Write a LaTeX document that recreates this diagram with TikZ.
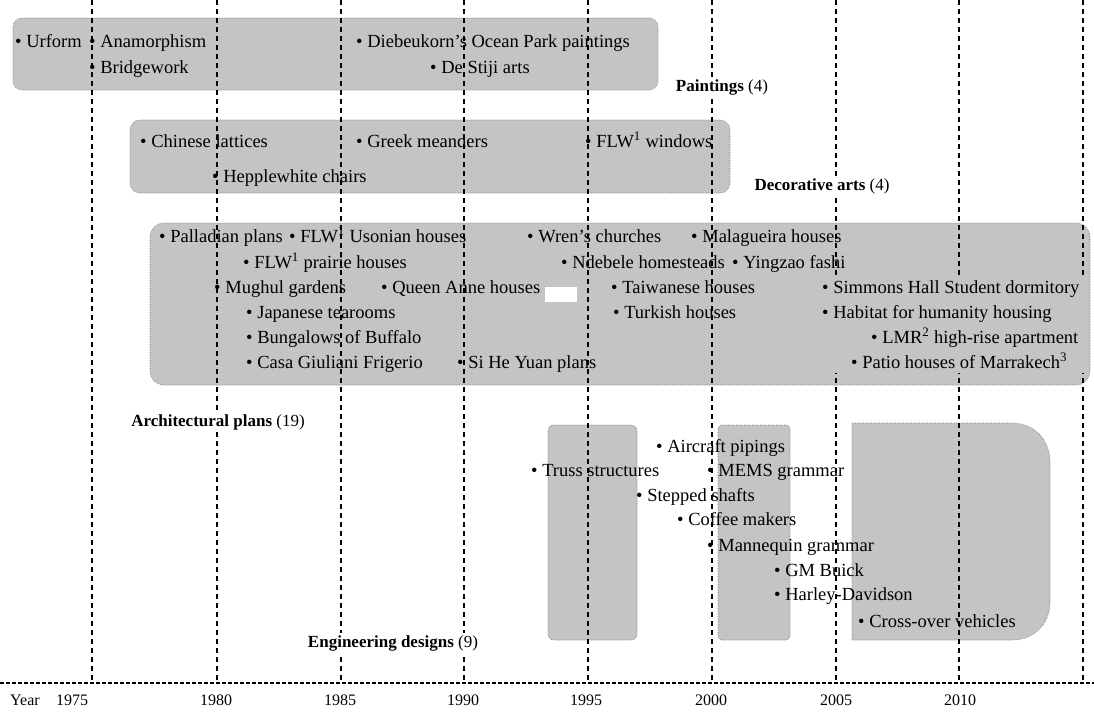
\documentclass[tikz,border=0pt]{standalone}
\usepackage{fontspec}
\setmainfont{Liberation Serif}
\definecolor{panelgray}{RGB}{196,196,196}
\definecolor{paneledge}{RGB}{120,120,120}
\begin{document}
\begin{tikzpicture}[x=1pt,y=-1pt,
  panel/.style={fill=panelgray, draw=paneledge, densely dotted, line width=0.6pt},
  item/.style={anchor=base west, inner sep=0pt, font=\fontsize{18.5}{20}\selectfont},
  cat/.style={fill=white, inner sep=2pt, font=\fontsize{17}{19}\selectfont},
  yr/.style={anchor=base, inner sep=0pt, font=\fontsize{16}{18}\selectfont},
  yearline/.style={line width=1.3pt, dash pattern=on 5pt off 4pt},
  axisline/.style={line width=1.3pt, dash pattern=on 4pt off 2pt},
]
% canvas
\fill[white] (0,0) rectangle (1094,715);
\useasboundingbox (0,0) rectangle (1094,715);

% ---------- shaded panels ----------
\path[panel, rounded corners=9pt] (13,18) rectangle (658,90);
\path[panel, rounded corners=10pt] (130,120) rectangle (730,193);
\path[panel, rounded corners=14pt] (150,223) rectangle (1090,385);
\fill[white] (545,287) rectangle (577,302);
% engineering designs: three strips
\path[panel, rounded corners=6pt] (548,425) rectangle (637,640);
\path[panel, rounded corners=4pt] (718,425) rectangle (790,640);
\path[panel] (852,423) -- (1012,423) .. controls (1034,423) and (1050,440) .. (1050,462)
   -- (1050,602) .. controls (1050,624) and (1034,640) .. (1012,640) -- (852,640) -- cycle;

% ---------- time grid ----------
\foreach \yr/\x [count=\i] in {1975/92,1980/217,1985/341,1990/464,1995/588,2000/712,2005/836,2010/959,2015/1083}{
  \coordinate (top\i) at (\x,0);
  \coordinate (bot\i) at (\x,683);
  \draw[yearline] (top\i) -- (bot\i);
}
\coordinate (axisL) at (0,683);
\coordinate (axisR) at (1094,683);
\draw[axisline] (axisL) -- (axisR);

% text block on the right of the architectural panel sits over the grid
\fill[panelgray] (818,277) rectangle (1087,373);

% ---------- paintings ----------
\node[item] (urform) at (15,47) {• Urform};
\node[item] (anamorph) at (89,47) {• Anamorphism};
\node[item] (bridge) at (89,73) {• Bridgework};
\node[item] (diebeukorn) at (356,47) {• Diebeukorn's Ocean Park paintings};
\node[item] (destiji) at (430,73) {• De Stiji arts};
\node[cat] (lblpaint) at (722,87) {\textbf{Paintings} (4)};

% ---------- decorative arts ----------
\node[item] (chinese) at (140,147) {• Chinese lattices};
\node[item] (greek) at (356,147) {• Greek meanders};
\node[item] (flwwin) at (585,147) {• FLW\textsuperscript{1} windows};
\node[item] (hepple) at (212,182) {• Hepplewhite chairs};
\node[cat] (lbldeco) at (822,186) {\textbf{Decorative arts} (4)};

% ---------- architectural plans ----------
\node[item] (palladian) at (159,242) {• Palladian plans};
\node[item] (usonian) at (289,242) {• FLW\textsuperscript{1} Usonian houses};
\node[item] (wren) at (527,242) {• Wren's churches};
\node[item] (malagueira) at (691,242) {• Malagueira houses};
\node[item] (prairie) at (243,268) {• FLW\textsuperscript{1} prairie houses};
\node[item] (ndebele) at (561,268) {• Ndebele homesteads};
\node[item] (yingzao) at (732,268) {• Yingzao fashi};
\node[item] (mughul) at (214,293) {• Mughul gardens};
\node[item] (queenanne) at (381,293) {• Queen Anne houses};
\node[item] (taiwanese) at (611,293) {• Taiwanese houses};
\node[item] (simmons) at (822,293) {• Simmons Hall Student dormitory};
\node[item] (japanese) at (246,318) {• Japanese tearooms};
\node[item] (turkish) at (613,318) {• Turkish houses};
\node[item] (habitat) at (822,318) {• Habitat for humanity housing};
\node[item] (bungalows) at (246,343) {• Bungalows of Buffalo};
\node[item] (lmr) at (871,343) {• LMR\textsuperscript{2} high-rise apartment};
\node[item] (casa) at (246,368) {• Casa Giuliani Frigerio};
\node[item] (sihe) at (457,368) {• Si He Yuan plans};
\node[item] (patio) at (851,368) {• Patio houses of Marrakech\textsuperscript{3}};
\node[cat] (lblarch) at (218,422) {\textbf{Architectural plans} (19)};

% ---------- engineering designs ----------
\node[item] (aircraft) at (656,452) {• Aircraft pipings};
\node[item] (truss) at (531,476) {• Truss structures};
\node[item] (mems) at (707,476) {• MEMS grammar};
\node[item] (stepped) at (636,501) {• Stepped shafts};
\node[item] (coffee) at (677,525) {• Coffee makers};
\node[item] (mannequin) at (707,551) {• Mannequin grammar};
\node[item] (buick) at (774,576) {• GM Buick};
\node[item] (harley) at (774,600) {• Harley-Davidson};
\node[item] (crossover) at (858,627) {• Cross-over vehicles};
\node[cat] (lbleng) at (393,643) {\textbf{Engineering designs} (9)};

% ---------- year axis ----------
\node[yr, anchor=base west] (yearword) at (10,705) {Year};
\node[yr] (y1975) at (72,705) {1975};
\node[yr] (y1980) at (216,705) {1980};
\node[yr] (y1985) at (340,705) {1985};
\node[yr] (y1990) at (463,705) {1990};
\node[yr] (y1995) at (586,705) {1995};
\node[yr] (y2000) at (711,705) {2000};
\node[yr] (y2005) at (836,705) {2005};
\node[yr] (y2010) at (960,705) {2010};
\end{tikzpicture}
\end{document}
